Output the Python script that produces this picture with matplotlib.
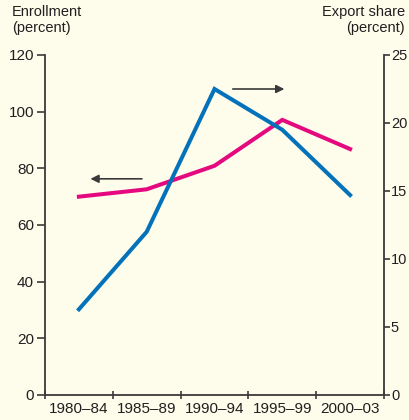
import matplotlib
matplotlib.use("Agg")
import matplotlib.pyplot as plt
from matplotlib import font_manager

periods = ["1980\u201384", "1985\u201389", "1990\u201394", "1995\u201399", "2000\u201303"]
enrollment = [70.0, 72.6, 80.9, 97.1, 86.8]      # left axis, percent
export_share = [6.3, 12.0, 22.5, 19.5, 14.7]     # right axis, percent
left_ticks = [0, 20, 40, 60, 80, 100, 120]
right_ticks = [0, 5, 10, 15, 20, 25]

names = {f.name for f in font_manager.fontManager.ttflist}
fam = ["Liberation Sans Narrow", "DejaVu Sans"] if "Liberation Sans Narrow" in names else ["Liberation Sans", "DejaVu Sans"]
plt.rcParams["font.family"] = fam

bg = "#FEFCEB"
pink = "#E5097F"
blue = "#0472BA"
axc = "#3a3a3a"
txt = "#231f20"

fig = plt.figure(figsize=(4.1, 4.2), dpi=100, facecolor=bg)
ax = fig.add_axes([45/410, 1-395/420, (384-45)/410, (395-55)/420], facecolor=bg)
ax2 = ax.twinx()

x = list(range(len(periods)))
ax.plot(x, enrollment, color=pink, lw=2.9, solid_joinstyle="miter", zorder=3)
ax2.plot(x, export_share, color=blue, lw=2.9, solid_joinstyle="miter", zorder=3)

ax.set_xlim(-0.5, len(periods)-0.5)
ax.set_ylim(0, 120)
ax2.set_ylim(0, 25)
ax.set_yticks(left_ticks)
ax2.set_yticks(right_ticks)

ax.set_xticks(x)
ax.set_xticklabels(periods)
ax.set_xticks([i-0.5 for i in range(len(periods)+1)], minor=True)
ax.tick_params(axis="x", which="major", length=0, pad=5, labelsize=11, labelcolor=txt)
ax.tick_params(axis="x", which="minor", length=6, width=1.2, color=axc, direction="inout")
ax.tick_params(axis="y", length=6, width=1.2, color=axc, labelsize=11, labelcolor=txt, pad=2)
ax2.tick_params(axis="y", length=4.5, width=1.2, color=axc, labelsize=10.5, labelcolor=txt, pad=0.5)

for a in (ax, ax2):
    a.spines["top"].set_visible(False)
    for s in ("left", "right", "bottom"):
        a.spines[s].set_color(axc)
        a.spines[s].set_linewidth(1.3)
ax2.spines["left"].set_visible(False)
ax2.spines["bottom"].set_visible(False)
ax.spines["right"].set_visible(False)

# direction arrows
ax.annotate("", xy=(0.17, 76.3), xytext=(0.93, 76.3),
            arrowprops=dict(arrowstyle="-|>", color=axc, lw=1.2, mutation_scale=12, shrinkA=0, shrinkB=0))
ax.annotate("", xy=(3.03, 108), xytext=(2.27, 108),
            arrowprops=dict(arrowstyle="-|>", color=axc, lw=1.2, mutation_scale=12, shrinkA=0, shrinkB=0))

fig.text(12/410, 1-5/420, "Enrollment\n(percent)", ha="left", va="top", fontsize=10.5,
         color=txt, linespacing=1.15)
fig.text(405/410, 1-5/420, "Export share\n(percent)", ha="right", va="top", fontsize=10.5,
         color=txt, linespacing=1.15, multialignment="right")

fig.savefig("out.png", dpi=100, facecolor=bg)
